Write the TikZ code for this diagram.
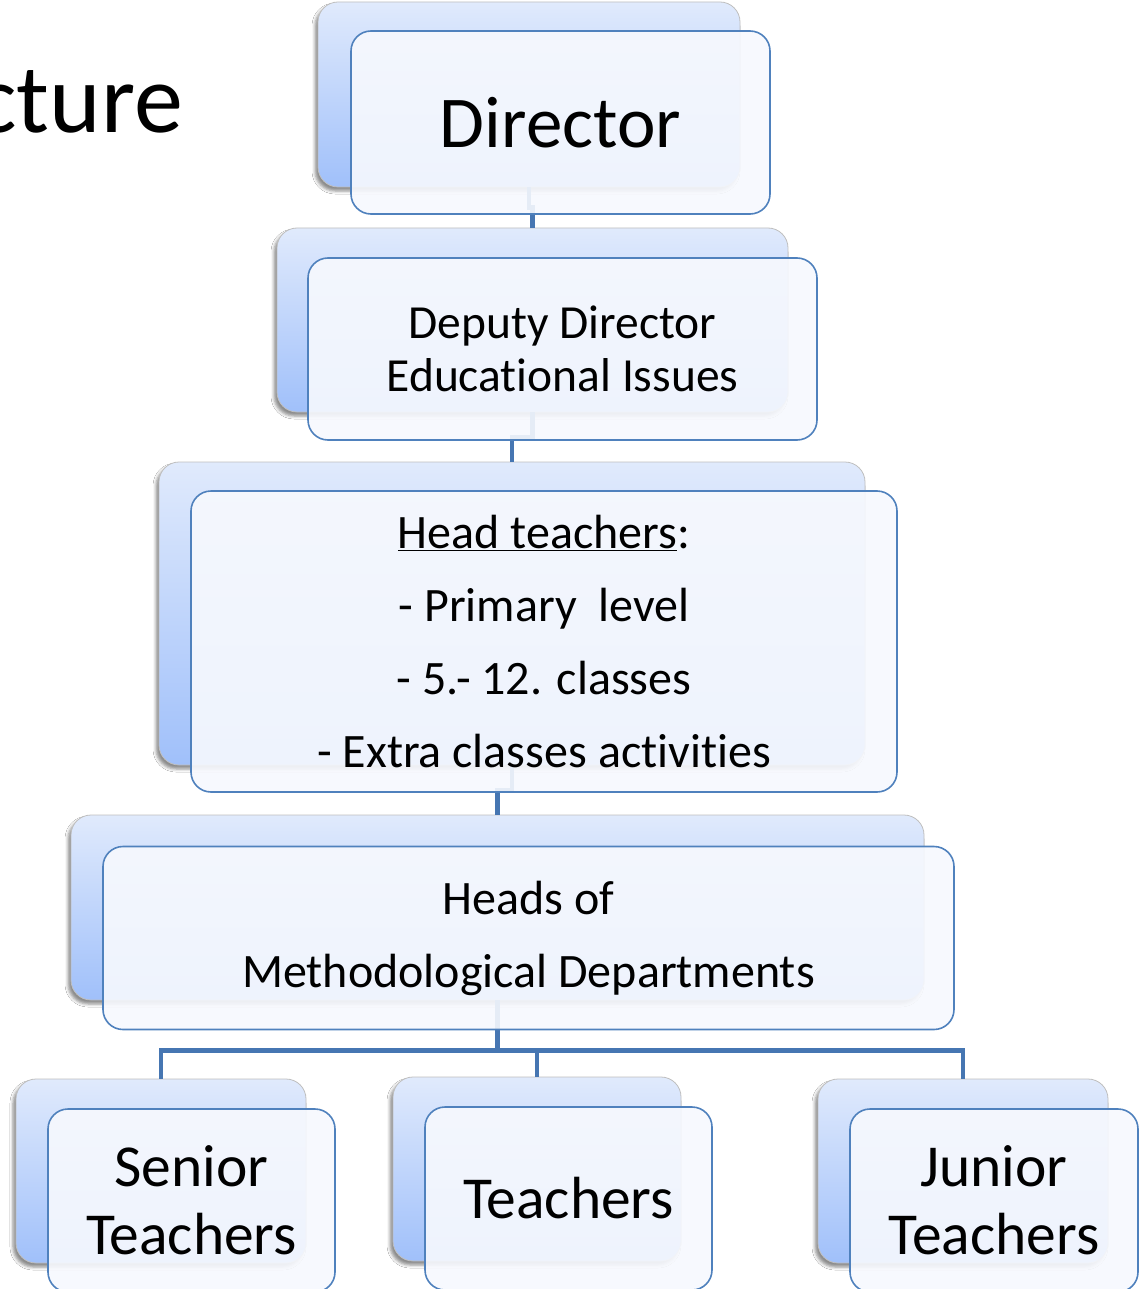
\documentclass[tikz,border=0pt]{standalone}
\usepackage{fontspec}
\setmainfont{Carlito}[RawFeature={-liga;-clig;-dlig}]
\usetikzlibrary{shadows.blur}
\newcommand{\brk}{\kern0pt{}}
\definecolor{bTop}{RGB}{224,234,252}
\definecolor{bBot}{RGB}{160,192,250}
\definecolor{fFill}{RGB}{247,249,254}
\definecolor{fLine}{RGB}{79,129,189}
\definecolor{cLine}{RGB}{70,118,178}
\tikzset{
  backbox/.style={rectangle, rounded corners=20pt, top color=bTop, bottom color=bBot,
    draw=black!25, line width=0.8pt, inner sep=0pt,
    blur shadow={shadow xshift=-3pt, shadow yshift=-4pt, shadow blur radius=3pt, shadow opacity=45}},
  frontbox/.style={rectangle, rounded corners=20pt, fill=fFill, fill opacity=0.9, text opacity=1,
    draw=fLine, draw opacity=1, line width=1.6pt, inner sep=0pt, align=center, text=black},
  conn/.style={draw=cLine, line width=4.5pt}
}
\begin{document}
\begin{tikzpicture}[x=1pt,y=-1pt]
\useasboundingbox (0,0) rectangle (1142,1289);
\fill[white] (0,0) rectangle (1142,1289);
% title fragment
\node[anchor=base east, inner sep=0pt, font=\fontsize{98}{100}\selectfont] (title) at (183,133) {cture};
% back boxes
\node[backbox, minimum width=422pt, minimum height=185pt] (dirB) at (529,94.5) {};
\node[backbox, minimum width=511pt, minimum height=184pt] (depB) at (532.5,320) {};
\node[backbox, minimum width=706pt, minimum height=303pt] (headB) at (512,613.5) {};
\node[backbox, minimum width=853pt, minimum height=185pt] (hodB) at (497.5,907.5) {};
\node[backbox, minimum width=290pt, minimum height=184pt] (senB) at (161,1171) {};
\node[backbox, minimum width=288pt, minimum height=184pt] (teaB) at (537,1169) {};
\node[backbox, minimum width=290pt, minimum height=184pt] (junB) at (963,1171) {};
% connectors
\draw[conn] (dirB.south) -- ++(0,20) -| (depB.north);
\draw[conn] (depB.south) -- ++(0,25) -| (headB.north);
\draw[conn] (headB.south) -- ++(0,25) -| (hodB.north);
\draw[conn] (hodB.south) -- ++(0,50) -| (senB.north);
\draw[conn] (hodB.south) -- ++(0,50) -| (teaB.north);
\draw[conn] (hodB.south) -- ++(0,50) -| (junB.north);
% front boxes
\node[frontbox, minimum width=419pt, minimum height=183pt, font=\fontsize{73}{80}\selectfont] (dirF) at (560.5,122.5) {Director};
\node[frontbox, minimum width=509pt, minimum height=182pt, font=\fontsize{47.5}{53}\selectfont] (depF) at (562.5,349) {Deputy Director\\Educat\brk ional Issues};
\node[frontbox, minimum width=706pt, minimum height=301pt, font=\fontsize{48}{73}\selectfont] (headF) at (544,641.5) {\underline{Head teachers}:\\- Primary\ \ level\\- 5.- 12. classes\\- Extra classes act\brk ivit\brk ies};
\node[frontbox, minimum width=851pt, minimum height=183pt, font=\fontsize{48}{73}\selectfont] (hodF) at (528.5,938) {Heads of\\Methodological Departments};
\node[frontbox, minimum width=287pt, minimum height=183pt, font=\fontsize{59.5}{68}\selectfont] (senF) at (191.5,1200.5) {Senior\\Teachers};
\node[frontbox, minimum width=287pt, minimum height=183pt, font=\fontsize{59.5}{68}\selectfont] (teaF) at (568.5,1198.5) {Teachers};
\node[frontbox, minimum width=288pt, minimum height=183pt, font=\fontsize{59.5}{68}\selectfont] (junF) at (994,1200.5) {Junior\\Teachers};
\end{tikzpicture}
\end{document}
